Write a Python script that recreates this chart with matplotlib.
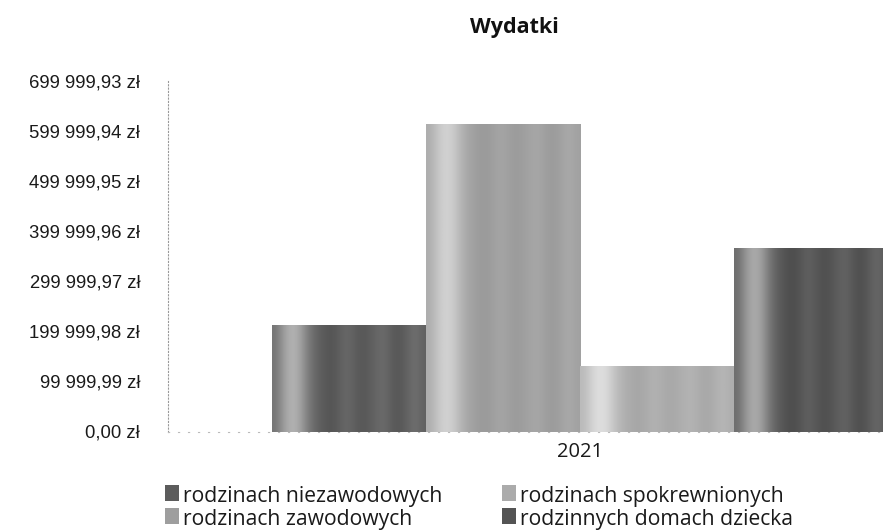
import numpy as np
import matplotlib
matplotlib.use("Agg")
import matplotlib.pyplot as plt
from matplotlib.patches import Rectangle

# ---- data ----
title = "Wydatki"
categories = ["2021"]
series_names = [
    "rodzinach niezawodowych",
    "rodzinach zawodowych",
    "rodzinach spokrewnionych",
    "rodzinnych domach dziecka",
]
series_values = [212000, 615000, 130000, 366000]
tick_values = [0.00, 99999.99, 199999.98, 299999.97, 399999.96, 499999.95, 599999.94, 699999.93]

# ---- style ----
base_grays = [0.36, 0.62, 0.67, 0.33]
profile = np.array([0.10, 0.25, 0.35, 0.30, 0.15, 0.05, 0.0, -0.03, 0.0, 0.05,
                    0.02, -0.02, 0.0, 0.04, 0.06, 0.0, -0.02, 0.03, 0.08, 0.02])
W, H = 883, 531

def fx(px):
    return px / W

def fy(py):
    return 1 - py / H

def fmt_pln(v):
    s = f"{v:,.2f}"
    s = s.replace(",", " ").replace(".", ",")
    return s + " zł"

fig = plt.figure(figsize=(W / 100, H / 100), dpi=100)
ax = fig.add_axes([fx(168), fy(431.5), 824 / W, 350 / H])

n = len(series_names)
w = 0.2
x = np.arange(len(categories))
for i, name in enumerate(series_names):
    vals = [series_values[i]]
    off = (i - (n - 1) / 2) * w
    g = base_grays[i]
    bars = ax.bar(x + off, vals, width=w, color=(g, g, g), edgecolor="none", label=name, zorder=2)
    for b in bars:
        grad = np.clip(g + profile * (1.0 if g < 0.5 else 0.6), 0, 1)
        img = np.stack([grad, grad, grad], axis=-1)[None, :, :]
        im = ax.imshow(img, extent=[b.get_x(), b.get_x() + b.get_width(), 0, b.get_height()],
                       aspect="auto", interpolation="bicubic", zorder=3)
        im.set_clip_path(b)

ax.set_xlim(-0.535, 0.535)
ax.set_ylim(0, tick_values[-1])
ax.set_yticks(tick_values)
ax.set_yticklabels([fmt_pln(v) for v in tick_values], fontfamily="Liberation Sans",
                   fontsize=13.3, color="#1a1a1a")
ax.set_xticks(x)
ax.set_xticklabels(categories, fontfamily="Open Sans", fontsize=14.5, color="#1a1a1a")
for t in ax.get_xticklabels():
    t.set_va("baseline")
ax.tick_params(axis="y", length=0, pad=20)
ax.tick_params(axis="x", length=0, pad=18.4)
for s in ["top", "right"]:
    ax.spines[s].set_visible(False)
ax.spines["left"].set_linestyle((0, (1, 2)))
ax.spines["left"].set_color("#999999")
ax.spines["left"].set_linewidth(0.8)
ax.spines["bottom"].set_linestyle((0, (1, 8)))
ax.spines["bottom"].set_color("#bbbbbb")
ax.spines["bottom"].set_linewidth(0.8)

fig.text(fx(514), fy(33), title, ha="center", va="baseline", fontfamily="Open Sans",
         fontweight="bold", fontsize=15.5, color="#111111")

# legend (two columns, filled column-wise)
col_swatch_x = [165, 502]
row_baseline = [502, 525]
for i, name in enumerate(series_names):
    c, r = divmod(i, 2)
    g = base_grays[i]
    sx, by = col_swatch_x[c], row_baseline[r]
    fig.patches.append(Rectangle((fx(sx), fy(by - 1)), 14 / W, 16 / H, transform=fig.transFigure,
                                 facecolor=(g, g, g), edgecolor="none"))
    fig.text(fx(sx + 18), fy(by), name, ha="left", va="baseline", fontfamily="Open Sans",
             fontsize=15.2, color="#1a1a1a")

fig.savefig("out.png", dpi=100)
